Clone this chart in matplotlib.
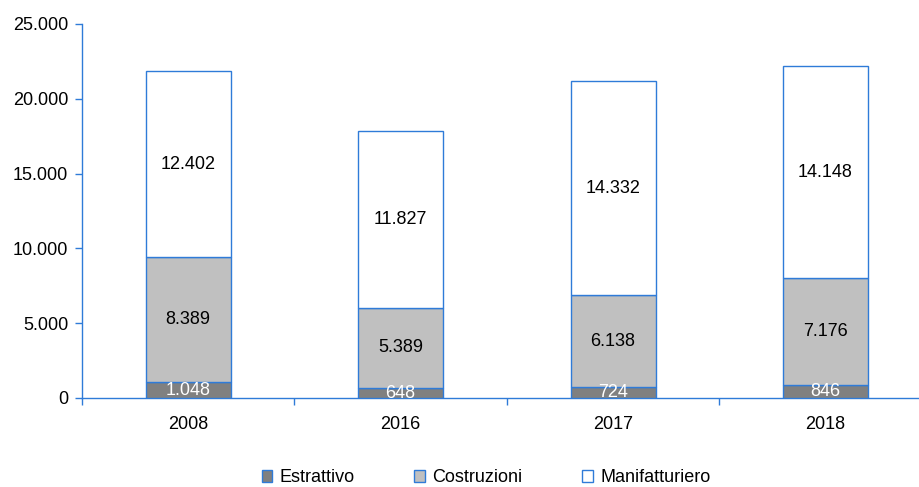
import matplotlib
matplotlib.use("Agg")
import matplotlib.pyplot as plt
from matplotlib.patches import Patch
from matplotlib.ticker import FuncFormatter, FixedLocator

plt.rcParams['font.family'] = ['Liberation Sans', 'DejaVu Sans']

years = ["2008", "2016", "2017", "2018"]
estrattivo = [1048, 648, 724, 846]
costruzioni = [8389, 5389, 6138, 7176]
manifatturiero = [12402, 11827, 14332, 14148]
series_names = ["Estrattivo", "Costruzioni", "Manifatturiero"]

edge = "#2f7bd8"
colors = ["#808080", "#c0c0c0", "#ffffff"]
txt_colors = ["white", "black", "black"]

def fmt(v):
    return f"{int(v):,}".replace(",", ".")

fs = 13
fig = plt.figure(figsize=(9.19, 4.87), dpi=100)
ax = fig.add_axes([82/919, 1-398/487, 1-82/919, (398-24)/487])

x = list(range(len(years)))
bottom = [0]*len(years)
for vals, c, tc, name in zip([estrattivo, costruzioni, manifatturiero], colors, txt_colors, series_names):
    ax.bar(x, vals, width=0.4, bottom=bottom, color=c, edgecolor=edge, linewidth=1.0, label=name, zorder=3)
    for xi, v, b in zip(x, vals, bottom):
        ax.text(xi, b + v/2, fmt(v), ha="center", va="center", color=tc, fontsize=fs, zorder=4)
    bottom = [b + v for b, v in zip(bottom, vals)]

ax.set_ylim(0, 25000)
ax.set_xlim(-0.5, 3.44)
ax.set_yticks(range(0, 25001, 5000))
ax.yaxis.set_major_formatter(FuncFormatter(lambda v, p: fmt(v)))
ax.set_xticks(x)
ax.set_xticklabels(years)
ax.xaxis.set_minor_locator(FixedLocator([-0.5, 0.5, 1.5, 2.5, 3.5]))
ax.tick_params(axis="x", which="major", length=0, pad=13, labelsize=fs)
ax.tick_params(axis="x", which="minor", length=5, color=edge, width=1)
ax.tick_params(axis="y", length=5, color=edge, width=1, labelsize=fs, pad=5)

for s in ["top", "right"]:
    ax.spines[s].set_visible(False)
for s in ["left", "bottom"]:
    ax.spines[s].set_color(edge)
    ax.spines[s].set_linewidth(1)

handles = [Patch(facecolor=c, edgecolor=edge, linewidth=1) for c in colors]
fig.legend(handles, series_names, loc="center", bbox_to_anchor=(486/919, 1-478/487),
           ncol=3, frameon=False, fontsize=fs, handlelength=0.6, handleheight=0.6,
           handletextpad=0.4, columnspacing=3.3)

fig.savefig("out.png", dpi=100)
